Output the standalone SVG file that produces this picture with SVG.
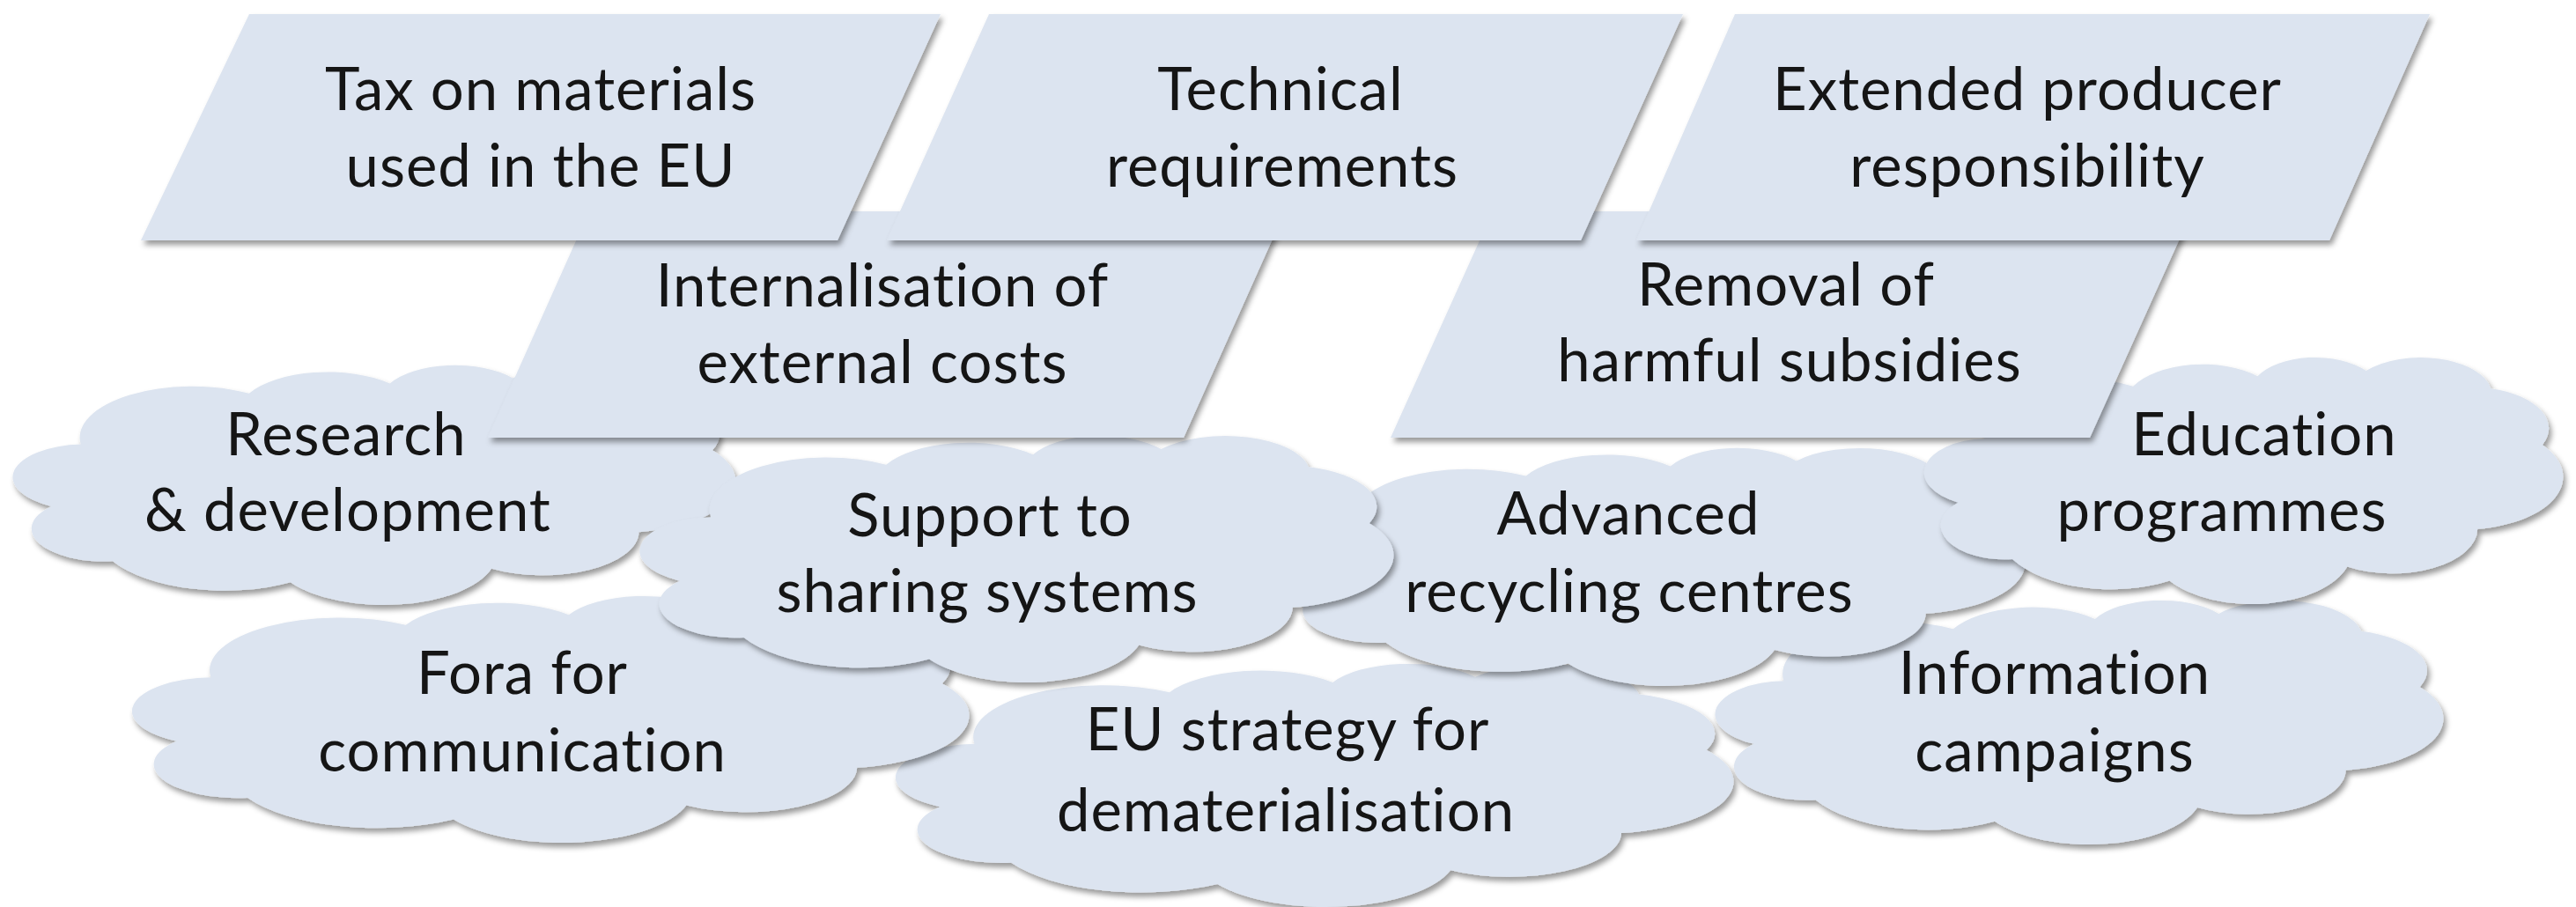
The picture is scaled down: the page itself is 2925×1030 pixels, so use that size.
<svg xmlns="http://www.w3.org/2000/svg" xmlns:xlink="http://www.w3.org/1999/xlink" width="2925" height="1030" viewBox="0 0 2925 1030">
<style>
.shape{fill:#dce4f0;}
.lbl{font-family:Lato,"Liberation Sans",sans-serif;font-size:67px;letter-spacing:1px;fill:#151515;text-anchor:middle;font-variant-ligatures:none;font-feature-settings:"liga" 0,"clig" 0;}
</style>
<defs>
<filter id="sh" x="-5%" y="-5%" width="112%" height="120%">
<feDropShadow dx="3" dy="5" stdDeviation="3" flood-color="#000" flood-opacity="0.4"/>
</filter>
<symbol id="cloud" viewBox="0 0 43200 43200" preserveAspectRatio="none" overflow="visible">
<path d="M3900,14370 A6753,9190 0 0 1 14005,5202 A5333,7267 0 0 1 22458,3431 A4365,5945 0 0 1 29836,2480 A4857,6595 0 0 1 38320,5576 A5333,7273 0 0 1 41821,15460 A6775,9220 0 0 1 37407,30203 A5785,7867 0 0 1 28559,36813 A6752,9215 0 0 1 16485,39269 A7720,10543 0 0 1 5809,35476 A4360,5918 0 0 1 2118,25554 A4345,5945 0 0 1 3900,14370 Z"/>
</symbol>
</defs>
<rect width="2925" height="1030" fill="#fff"/>

<g id="cloud-eu-strategy">
<use href="#cloud" class="shape" x="1021" y="753" width="947" height="276" filter="url(#sh)"/>
<text class="lbl"><tspan x="1462" y="852">EU strategy for</tspan><tspan x="1460" y="944">dematerialisation</tspan></text>
</g>
<g id="cloud-information">
<use href="#cloud" class="shape" x="1951" y="681" width="823" height="277" filter="url(#sh)"/>
<text class="lbl"><tspan x="2333" y="788">Information</tspan><tspan x="2333" y="876">campaigns</tspan></text>
</g>
<g id="cloud-fora">
<use href="#cloud" class="shape" x="154" y="676" width="946" height="280" filter="url(#sh)"/>
<text class="lbl"><tspan x="593" y="788">Fora for</tspan><tspan x="593" y="876">communication</tspan></text>
</g>
<g id="cloud-research">
<use href="#cloud" class="shape" x="18" y="414" width="817" height="272" filter="url(#sh)"/>
<text class="lbl"><tspan x="393" y="517">Research</tspan><tspan x="395" y="603">&amp; development</tspan></text>
</g>
<g id="cloud-advanced">
<use href="#cloud" class="shape" x="1461" y="508" width="838" height="270" filter="url(#sh)"/>
<text class="lbl"><tspan x="1849" y="607">Advanced</tspan><tspan x="1850" y="695">recycling centres</tspan></text>
</g>
<g id="cloud-education">
<use href="#cloud" class="shape" x="2188" y="405" width="722" height="280" filter="url(#sh)"/>
<text class="lbl"><tspan x="2571" y="517">Education</tspan><tspan x="2523" y="603">programmes</tspan></text>
</g>
<g id="cloud-support">
<use href="#cloud" class="shape" x="730" y="494" width="852" height="280" filter="url(#sh)"/>
<text class="lbl"><tspan x="1124" y="609">Support to</tspan><tspan x="1121" y="695">sharing systems</tspan></text>
</g>

<g id="para-internalisation">
<polygon class="shape" points="669,240 1459,240 1344,497 554,497" filter="url(#sh)"/>
<text class="lbl"><tspan x="1002" y="348">Internalisation of</tspan><tspan x="1002" y="435">external costs</tspan></text>
</g>
<g id="para-removal">
<polygon class="shape" points="1695,240 2489,240 2373,497 1579,497" filter="url(#sh)"/>
<text class="lbl"><tspan x="2028" y="347">Removal of</tspan><tspan x="2032" y="433">harmful subsidies</tspan></text>
</g>
<g id="para-tax">
<polygon class="shape" points="283,16 1068,16 951,273 160,273" filter="url(#sh)"/>
<text class="lbl"><tspan x="614" y="125">Tax on materials</tspan><tspan x="614" y="212">used in the EU</tspan></text>
</g>
<g id="para-technical">
<polygon class="shape" points="1123,16 1911,16 1795,273 1007,273" filter="url(#sh)"/>
<text class="lbl"><tspan x="1454" y="125">Technical</tspan><tspan x="1456" y="212">requirements</tspan></text>
</g>
<g id="para-extended">
<polygon class="shape" points="1970,16 2759,16 2645,273 1858,273" filter="url(#sh)"/>
<text class="lbl"><tspan x="2302" y="125">Extended producer</tspan><tspan x="2302" y="212">responsibility</tspan></text>
</g>
<g id="connectors"/>
</svg>
